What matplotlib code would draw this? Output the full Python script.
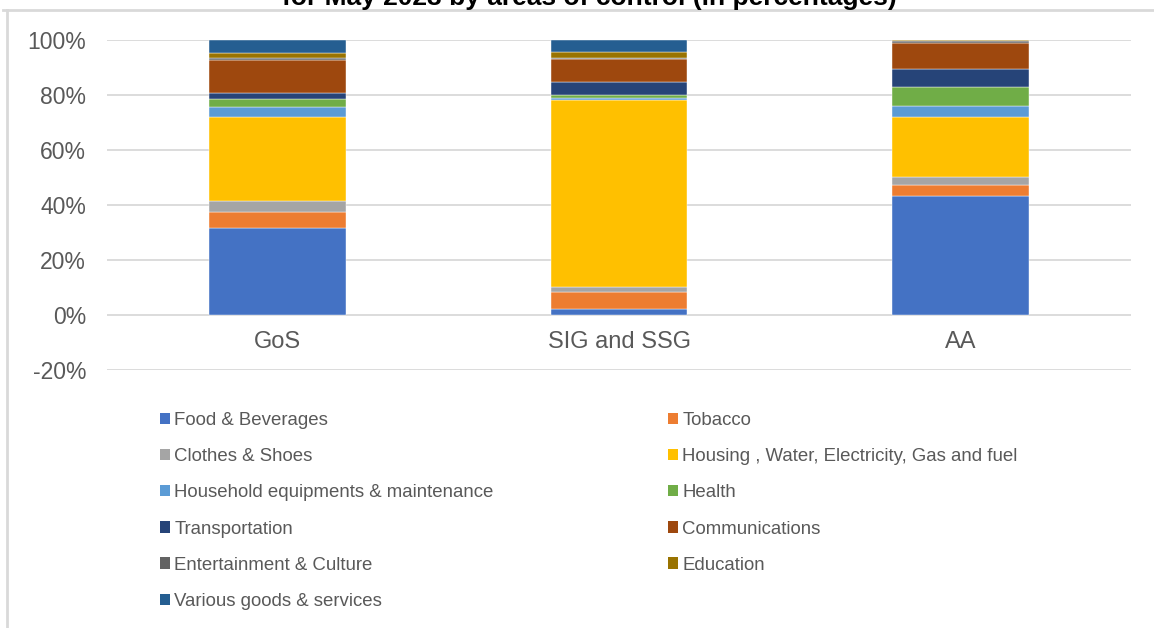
import matplotlib.pyplot as plt
import numpy as np
from matplotlib.patches import Patch
from matplotlib.lines import Line2D

plt.rcParams["font.family"] = ["Liberation Sans", "DejaVu Sans"]

# data (percent shares, bottom to top)
areas = ["GoS", "SIG and SSG", "AA"]
groups = [
    "Food & Beverages",
    "Tobacco",
    "Clothes & Shoes",
    "Housing , Water, Electricity, Gas and fuel",
    "Household equipments & maintenance",
    "Health",
    "Transportation",
    "Communications",
    "Entertainment & Culture",
    "Education",
    "Various goods & services",
]
gos = [31.5, 5.8, 4.3, 30.4, 3.7, 2.9, 2.0, 12.1, 0.7, 1.7, 4.9]
sig_ssg = [2.2, 6.3, 1.6, 68.2, 0.7, 0.9, 4.9, 8.4, 0.2, 2.2, 4.4]
aa = [43.2, 4.1, 2.8, 21.9, 4.1, 6.8, 6.7, 9.3, 0.8, 0.2, 0.1]
colors = [
    "#4472C4", "#ED7D31", "#A5A5A5", "#FFC000", "#5B9BD5", "#70AD47",
    "#264478", "#9E480E", "#636363", "#997300", "#255E91",
]
# only the lower line of the title is visible in the crop
title = "for May 2023 by areas of control (in percentages)"

W, H = 1154, 628
fig = plt.figure(figsize=(W / 100, H / 100), dpi=100)
ax = fig.add_axes([107 / W, 1 - 370 / H, (1131 - 107) / W, (370 - 40) / H])

values = np.array([gos, sig_ssg, aa]).T
x = np.arange(len(areas))
bottom = np.zeros(len(areas))
for name, vals, col in zip(groups, values, colors):
    ax.bar(x, vals, 0.4, bottom=bottom, color=col, label=name,
           edgecolor="white", linewidth=0.3, zorder=3)
    bottom += vals

ax.set_xlim(-0.5, 2.5)
ax.set_ylim(-20, 100)
ax.set_yticks(np.arange(-20, 101, 20))
ax.set_yticklabels([f"{v}%" for v in range(-20, 101, 20)])
ax.set_xticks([])
ax.tick_params(axis="y", length=0, pad=15, labelsize=16.5, labelcolor="#595959")
ax.grid(axis="y", color="#D9D9D9", linewidth=1.3, zorder=0)
for s in ax.spines.values():
    s.set_visible(False)

for xi, name in zip(x, areas):
    ax.text(xi, -10, name, ha="center", va="center", fontsize=17, color="#595959")

# legend in two columns, filled row by row like the original
handles = [Patch(facecolor=c, edgecolor="none") for c in colors]
kw = dict(frameon=False, fontsize=13.4, labelcolor="#595959", handlelength=0.55,
          handleheight=0.55, handletextpad=0.22, labelspacing=1.03,
          borderaxespad=0, borderpad=0)
fig.legend(handles[0::2], groups[0::2], loc="upper left",
           bbox_to_anchor=(160 / W, 1 - 412 / H), **kw)
fig.legend(handles[1::2], groups[1::2], loc="upper left",
           bbox_to_anchor=(668 / W, 1 - 412 / H), **kw)

# chart border as seen in the crop (top and left edges)
fig.add_artist(Line2D([3 / W, 1], [1 - 10 / H] * 2, color="#D9D9D9", lw=2))
fig.add_artist(Line2D([7 / W] * 2, [0, 1 - 10 / H], color="#D9D9D9", lw=2))

# title sits mostly above the visible crop
fig.text(589 / W, 1 - 5 / H, title, ha="center", va="baseline",
         fontsize=19, fontweight="bold", color="black")

fig.savefig("out.png", dpi=100)
